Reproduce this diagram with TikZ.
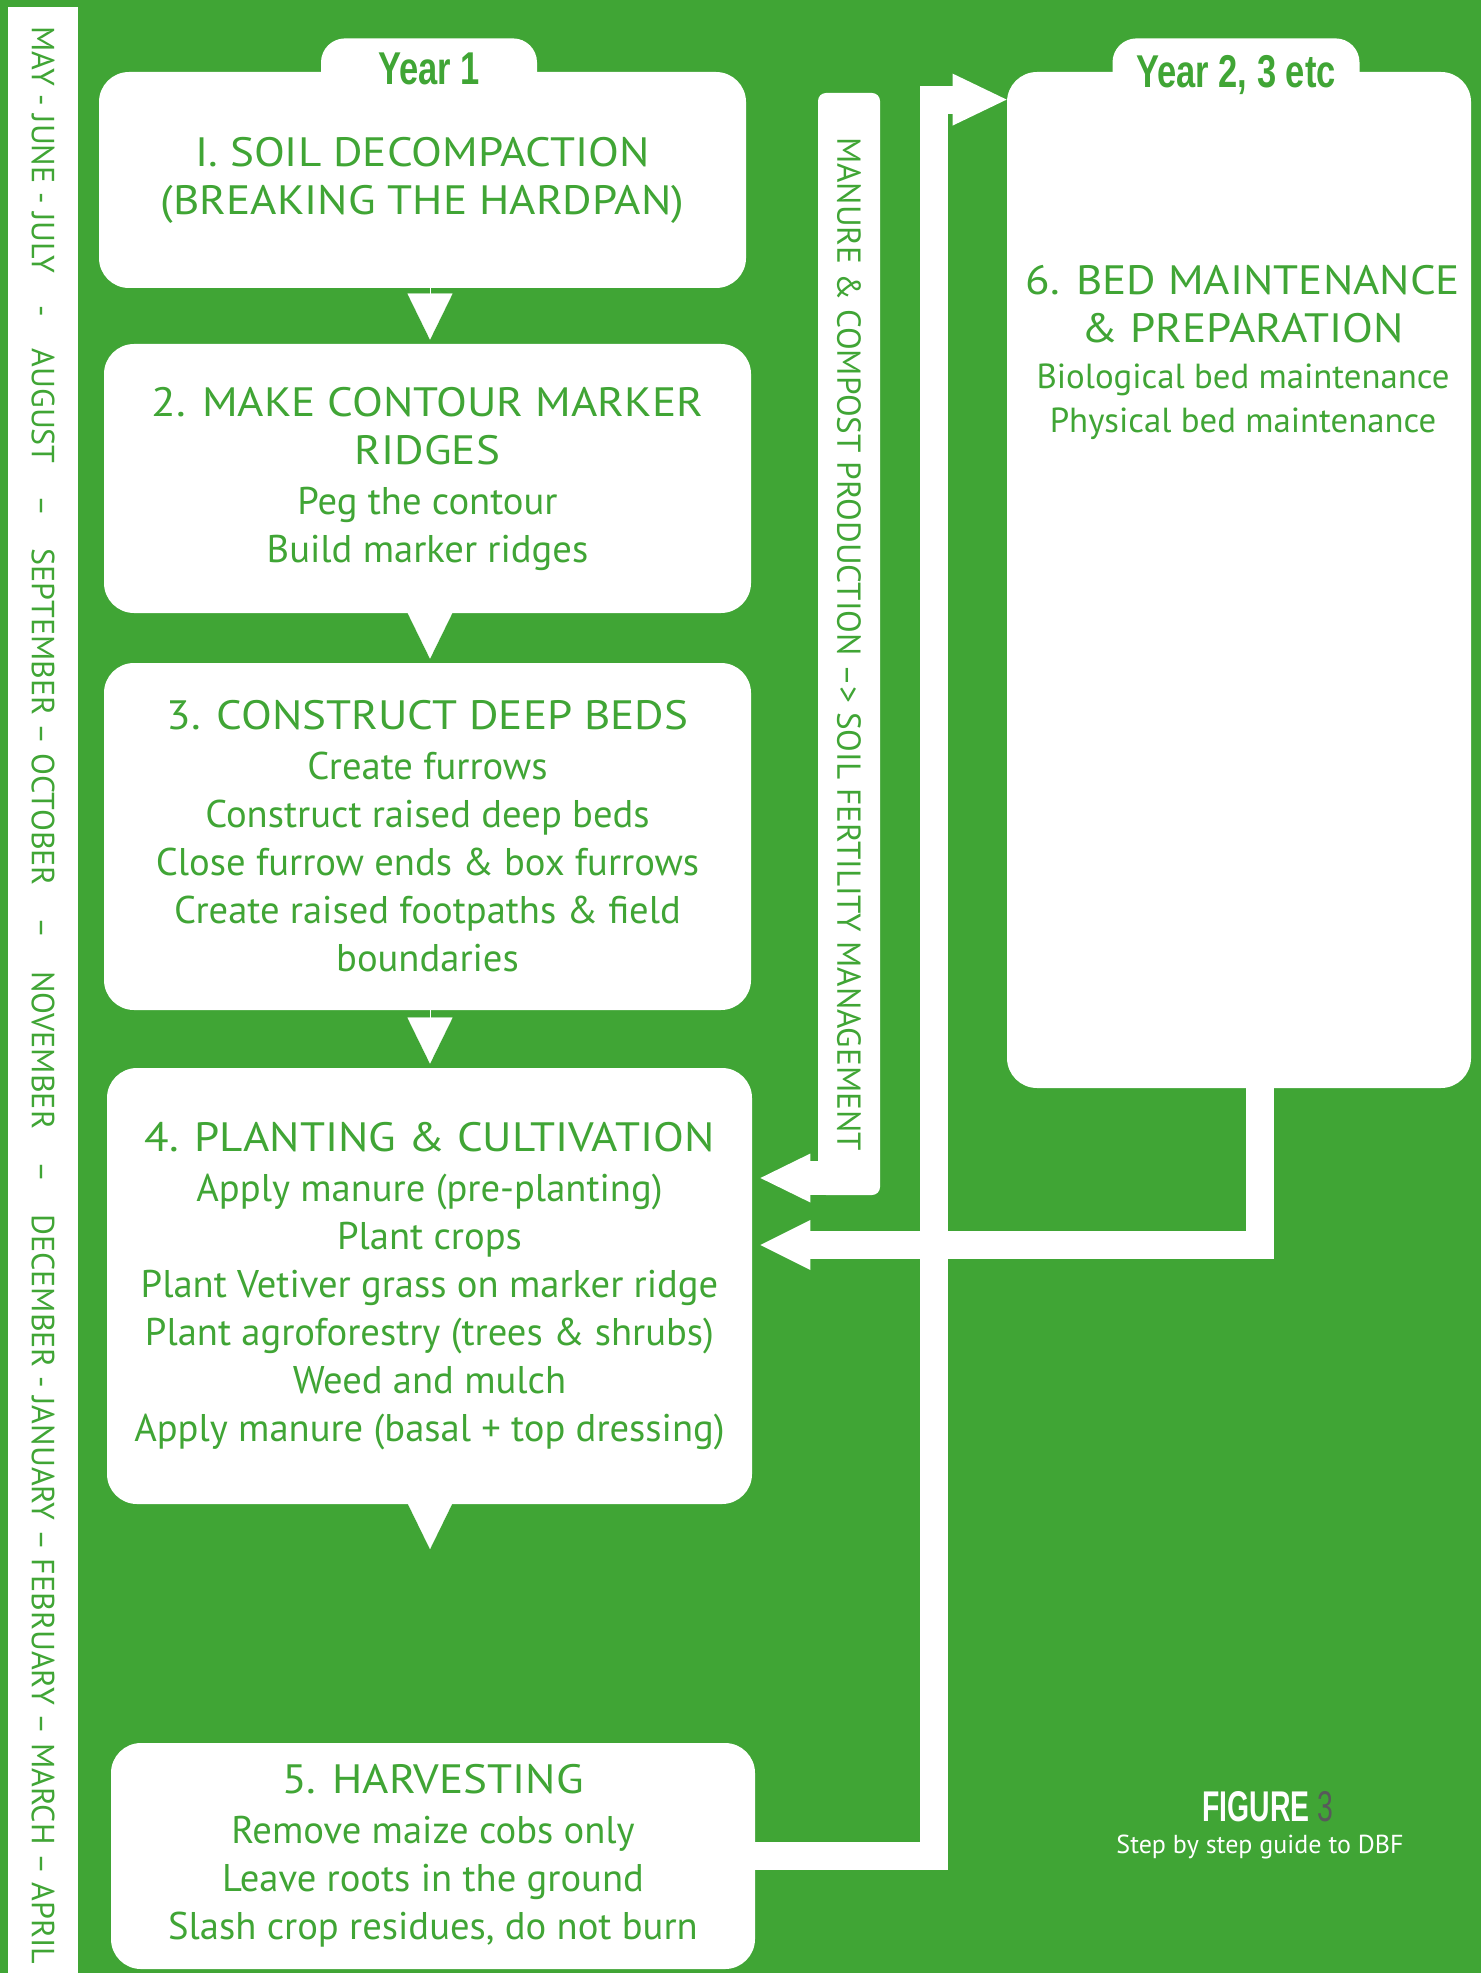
\documentclass[tikz,border=0pt]{standalone}
\usepackage{fontspec}
\setmainfont{PT Sans}
\newfontfamily\headfont[FakeStretch=1.1]{PT Sans}
\newfontfamily\yearfont[FakeStretch=0.75]{Liberation Sans}
\newfontfamily\figfont[FakeStretch=0.66]{Liberation Sans}
\newcommand\stephead{\headfont\fontsize{20.5}{24}\selectfont}
\usetikzlibrary{arrows.meta}
\usetikzlibrary{calc}
\definecolor{dbfgreen}{RGB}{64,165,53}
\definecolor{figgray}{RGB}{88,89,91}

\begin{document}
\begin{tikzpicture}[x=0.5pt,y=-0.5pt]
  \tikzset{stepbox/.style = {shape=rectangle,rounded corners=15pt,fill=white,text=dbfgreen,align=center,inner sep=0pt,minimum width=323.5pt,font=\fontsize{19.3}{24}\selectfont}}
  \tikzset{yeartab/.style = {shape=rectangle,rounded corners=12pt,fill=white,text=dbfgreen,inner sep=0pt,font=\yearfont\bfseries\fontsize{23}{24}\selectfont}}
  \tikzset{sidetext/.style = {rotate=-90,text=dbfgreen,inner sep=0pt}}
  \tikzset{downtip/.style = {white,line width=0.1pt,shorten >=2pt,-{Triangle[length=23pt,width=22.5pt]}}}
  \tikzset{bigarrow/.style = {white,line width=14pt,-{Triangle[length=27pt,width=26pt,line width=0pt]}}}

  \fill[dbfgreen] (0,0) rectangle (1481,1973);
  \useasboundingbox (0,0) rectangle (1481,1973);

  % months
  \fill[white] (8,7) rectangle (78,1973);
  \node[sidetext,anchor=west,font=\fontsize{16}{18}\selectfont] (months) at (43,26) {MAY - JUNE - JULY\quad-\quad AUGUST\quad--\quad SEPTEMBER -- OCTOBER\quad--\quad NOVEMBER\quad--\quad DECEMBER - JANUARY -- FEBRUARY -- MARCH -- APRIL};

  % year 1
  \node[stepbox,minimum height=108pt] (s1) at (422.5,180) {\stephead I. SOIL DECOMPACTION\\\stephead (BREAKING THE HARDPAN)};
  \node[yeartab,minimum width=108pt,minimum height=31pt,anchor=north] (yr1) at (429,38) {Year 1};
  \node[stepbox,minimum height=134.5pt] (s2) at (427.5,478.5) {\stephead 2. MAKE CONTOUR MARKER\\\stephead RIDGES\\[1pt]Peg the contour\\Build marker ridges};
  \node[stepbox,minimum height=173.5pt] (s3) at (427.5,836.5) {\stephead 3. CONSTRUCT DEEP BEDS\\[1pt]Create furrows\\Construct raised deep beds\\Close furrow ends \& box furrows\\Create raised footpaths \& field\\boundaries};
  \node[stepbox,minimum height=218pt,minimum width=322.5pt] (s4) at (429.5,1286) {\stephead 4. PLANTING \& CULTIVATION\\[1pt]Apply manure (pre-planting)\\Plant crops\\Plant Vetiver grass on marker ridge\\Plant agroforestry (trees \& shrubs)\\Weed and mulch\\Apply manure (basal + top dressing)};
  \node[stepbox,minimum height=113pt,minimum width=322pt] (s5) at (433,1856) {\stephead 5. HARVESTING\\[1pt]Remove maize cobs only\\Leave roots in the ground\\Slash crop residues, do not burn};

  \coordinate (mid) at (430,0);
  \coordinate (gap) at (430,1553);
  \foreach \from/\to in {s1/s2, s2/s3, s3/s4}
    \draw[downtip] (mid |- \from.south) -- (mid |- \to.north);
  \draw[downtip] (mid |- s4.south) -- (gap);

  % year 2, 3 etc
  \node[stepbox,minimum width=232pt,minimum height=508pt] (maint) at (1239,580) {};
  \node[yeartab,minimum width=123.5pt,minimum height=37pt,anchor=north] (yr2) at (1236,38) {Year 2, 3 etc};
  \node[text=dbfgreen,align=center,font=\fontsize{17.4}{24}\selectfont] (mainttext) at (1243,352) {\stephead 6. BED MAINTENANCE\\\stephead \& PREPARATION\\[-1pt]Biological bed maintenance\\[-2pt]Physical bed maintenance};
  \coordinate (loopin) at ($(maint.north west)+(0,28)$);

  % manure
  \node[sidetext,fill=white,rounded corners=4pt,minimum width=551pt,minimum height=31pt,font=\fontsize{16.6}{18}\selectfont] (manure) at (849,644) {MANURE \& COMPOST PRODUCTION --> SOIL FERTILITY MANAGEMENT};
  \draw[bigarrow,line width=17pt,-{Triangle[length=25pt,width=24.5pt,line width=0pt]}] ($(manure.center)+(0,534)$) -- ($(s4.east)+(8,-108)$);

  % loops
  \draw[bigarrow] (s5.east) -- ++(179,0) |- (loopin);
  \draw[bigarrow,-{Triangle[length=25pt,width=25pt,line width=0pt]}] ($(maint.south)+(21,-2)$) |- ($(s4.east)+(8,-41)$);

  \node[text=white,font=\figfont\bfseries\fontsize{21.5}{24}\selectfont] (fig) at (1268,1807) {FIGURE \textcolor{figgray}{\mdseries 3}};
  \node[text=white,font=\fontsize{13}{15}\selectfont] (figcap) at (1260,1847) {Step by step guide to DBF};
\end{tikzpicture}
\end{document}
